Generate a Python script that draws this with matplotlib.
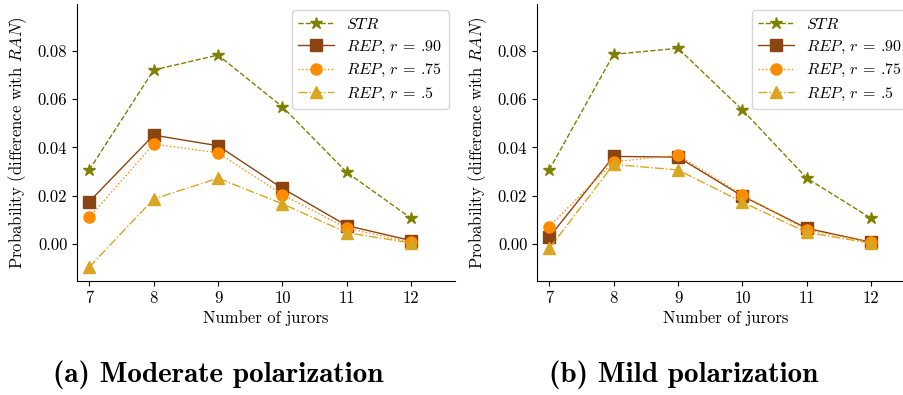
import matplotlib
matplotlib.use("Agg")
import matplotlib.pyplot as plt

plt.rcParams['font.family'] = ['cmr10', 'DejaVu Serif']
plt.rcParams['mathtext.fontset'] = 'cm'
plt.rcParams['axes.formatter.use_mathtext'] = True
plt.rcParams['axes.unicode_minus'] = True

jurors = [7, 8, 9, 10, 11, 12]
xtick_labels = ['7', '8', '9', '10', '11', '12']

# Moderate polarization
mod_str = [0.0307, 0.0720, 0.0782, 0.0568, 0.0297, 0.0107]
mod_rep90 = [0.0176, 0.0451, 0.0407, 0.0231, 0.0077, 0.0015]
mod_rep75 = [0.0111, 0.0414, 0.0378, 0.0205, 0.0066, 0.0008]
mod_rep50 = [-0.0095, 0.0187, 0.0273, 0.0167, 0.0048, 0.0005]

# Mild polarization
mild_str = [0.0307, 0.0785, 0.0810, 0.0555, 0.0273, 0.0107]
mild_rep90 = [0.0029, 0.0363, 0.0360, 0.0199, 0.0066, 0.0008]
mild_rep75 = [0.0073, 0.0341, 0.0368, 0.0204, 0.0059, 0.0008]
mild_rep50 = [-0.0017, 0.0330, 0.0307, 0.0174, 0.0049, 0.0004]

labels = [r'$STR$', r'$REP$, $r$ = .90', r'$REP$, $r$ = .75', r'$REP$, $r$ = .5']
captions = ['(a) Moderate polarization', '(b) Mild polarization']
caption_x = [218, 684]

styles = [
    dict(color='#808000', marker='*', linestyle='--', markersize=9, linewidth=1.0),
    dict(color='#8B4513', marker='s', linestyle='-', markersize=8, linewidth=1.0),
    dict(color='#FF8C00', marker='o', linestyle=':', markersize=8, linewidth=1.0),
    dict(color='#DAA520', marker='^', linestyle='-.', markersize=8, linewidth=1.0),
]

W, H = 904, 395
fig = plt.figure(figsize=(W / 100, H / 100), dpi=100)

panels = [
    (77, [mod_str, mod_rep90, mod_rep75, mod_rep50]),
    (537, [mild_str, mild_rep90, mild_rep75, mild_rep50]),
]
for i, (left_px, series) in enumerate(panels):
    ax = fig.add_axes([left_px / W, (H - 281) / H, 378 / W, 277 / H])
    for s, lab, st in zip(series, labels, styles):
        ax.plot(jurors, s, label=lab, **st)
    ax.set_xlim(6.81, 12.68)
    ax.set_ylim(-0.0152, 0.0993)
    ax.set_xticks(jurors)
    ax.set_xticklabels(xtick_labels)
    ax.set_yticks([0.0, 0.02, 0.04, 0.06, 0.08])
    ax.set_yticklabels(['0.00', '0.02', '0.04', '0.06', '0.08'])
    ax.tick_params(labelsize=12)
    ax.spines['top'].set_visible(False)
    ax.spines['right'].set_visible(False)
    ax.set_xlabel('Number of jurors', fontsize=12, labelpad=3)
    ax.set_ylabel(r'Probability (difference with $RAN$)', fontsize=12, labelpad=6)
    ax.legend(loc='upper right', fontsize=11.5, framealpha=0.8, borderaxespad=0.4,
              handlelength=2.2, labelspacing=0.42)
    fig.text(caption_x[i] / W, 1 - 375 / H, captions[i], ha='center', va='center',
             fontsize=21, family=['cmb10', 'DejaVu Serif'])

fig.savefig('out.png', dpi=100)
